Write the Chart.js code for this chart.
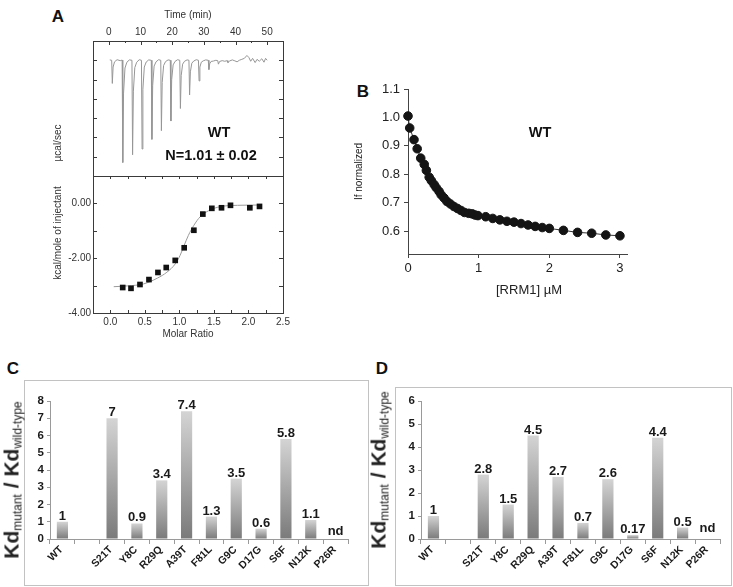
<!DOCTYPE html>
<html>
<head>
<meta charset="utf-8">
<script src="https://cdn.jsdelivr.net/npm/chart.js@4.4.1/dist/chart.umd.min.js"></script>
<style>
  body { margin: 0; width: 733px; height: 587px; position: relative; background: #fff; overflow: hidden;
         font-family: "Liberation Sans", Arial, sans-serif; }
  canvas, .lbl, .box { position: absolute; }
  .lbl { white-space: nowrap; line-height: 1; color: #222; transform: translate(-50%, -50%); }
  .rot { transform: translate(-50%, -50%) rotate(-90deg); }
  .panel { font-weight: bold; font-size: 17px; color: #111; }
  .note { font-weight: bold; font-size: 14.5px; color: #111; }
  .small { font-size: 10px; color: #333; }
  .kd { font-weight: bold; font-size: 21px; color: #222; }
  .kd sub { font-weight: normal; font-size: 12px; vertical-align: -3px; }
  .box { border: 1px solid #c2c2c2; box-sizing: border-box; }
</style>
</head>
<body>

<div class="lbl panel" style="left:58px;top:16px">A</div>
<div class="lbl panel" style="left:363px;top:91px">B</div>
<div class="lbl panel" style="left:13px;top:368px">C</div>
<div class="lbl panel" style="left:382px;top:368px">D</div>

<div class="box" style="left:24px;top:380px;width:345px;height:206px"></div>
<div class="box" style="left:395px;top:387px;width:337px;height:199px"></div>

<canvas id="aTop" width="300" height="180" style="left:0;top:0"></canvas>
<canvas id="aBottom" width="300" height="175" style="left:0;top:170px"></canvas>
<canvas id="bChart" width="300" height="225" style="left:340px;top:80px"></canvas>
<canvas id="cChart" width="344" height="205" style="left:24px;top:380px"></canvas>
<canvas id="dChart" width="337" height="198" style="left:395px;top:387px"></canvas>

<div class="lbl small rot" style="left:58px;top:143px">µcal/sec</div>
<div class="lbl small rot" style="left:58px;top:233px">kcal/mole of injectant</div>
<div class="lbl note" style="left:219px;top:132px">WT</div>
<div class="lbl note" style="left:211px;top:155px">N=1.01 ± 0.02</div>
<div class="lbl note" style="left:540px;top:132px">WT</div>
<div class="lbl" style="left:529px;top:289px;font-size:13px">[RRM1] µM</div>
<div class="lbl kd rot" style="left:12px;top:480px">Kd<sub>mutant</sub> / Kd<sub>wild-type</sub></div>
<div class="lbl kd rot" style="left:379px;top:470px">Kd<sub>mutant</sub> / Kd<sub>wild-type</sub></div>

<script>
// ---------- Panel A: raw ITC trace ----------
const rawTime = [0.3, 0.9, 1.1, 1.35, 1.8, 2.6, 3.6, 4.2, 4.4, 4.65, 5.1, 5.7, 6.5,
  7.3, 7.5, 7.75, 8.2, 8.8, 9.6, 10.3, 10.5, 10.75, 11.2, 11.8, 12.6,
  13.4, 13.6, 13.85, 14.3, 14.9, 15.7, 16.4, 16.6, 16.85, 17.3, 17.9, 18.7,
  19.4, 19.6, 19.85, 20.3, 20.9, 21.7, 22.4, 22.6, 22.85, 23.3, 23.9, 24.7,
  25.3, 25.5, 25.75, 26.2, 26.8, 27.6, 28.3, 28.5, 28.75, 29.2, 29.8, 30.6,
  31.4, 31.6, 31.85, 32.3, 33.0, 33.8, 34.4, 34.6, 35.0, 35.8, 36.6, 37.4,
  37.6, 38.2, 39.0, 39.8, 40.5, 41.2, 42.0, 42.8, 43.6, 44.2, 44.8, 45.4,
  46.2, 46.8, 47.5, 48.3, 49.0, 49.5, 50.0];
const rawPower = [0.02, 0.0, -1.2, -0.35, -0.08, 0.03, -0.02, 0.01, -5.3, -1.7, -0.4, -0.1, 0.02,
  0.0, -4.9, -1.6, -0.38, -0.1, 0.03, 0.0, -4.6, -1.5, -0.35, -0.09, 0.02,
  0.0, -4.1, -1.3, -0.3, -0.08, 0.03, 0.0, -3.65, -1.15, -0.27, -0.07, 0.02,
  0.0, -3.15, -1.0, -0.24, -0.06, 0.03, 0.0, -2.5, -0.8, -0.2, -0.05, 0.02,
  0.0, -1.8, -0.6, -0.15, -0.04, 0.03, 0.0, -1.07, -0.35, -0.1, -0.03, 0.02,
  0.0, -0.48, -0.18, -0.06, -0.04, 0.0, -0.02, -0.2, -0.06, -0.02, -0.05, -0.02,
  -0.12, -0.03, 0.02, -0.03, -0.08, 0.0, 0.05, 0.1, 0.25, 0.15, -0.05, 0.1,
  -0.12, 0.05, -0.05, 0.08, -0.1, 0.1, 0.0];
const timeTicks = [0, 10, 20, 30, 40, 50];
const timeMinor = [5, 15, 25, 35, 45];
const rawYTicks = [-6, -5, -4, -3, -2, -1, 0, 1];

// ---------- Panel A: integrated heats ----------
const molarRatio = [0.18, 0.30, 0.43, 0.56, 0.69, 0.81, 0.94, 1.07, 1.21, 1.34, 1.47, 1.61, 1.74, 2.02, 2.16];
const heatPerMole = [-3.07, -3.10, -2.96, -2.78, -2.52, -2.34, -2.08, -1.62, -0.98, -0.39, -0.18, -0.16, -0.07, -0.16, -0.11];
const fitRatio = [0.05, 0.25, 0.48, 0.68, 0.82, 0.94, 1.01, 1.07, 1.13, 1.21, 1.30, 1.42, 1.59, 1.84, 2.17];
const fitHeat = [-3.04, -3.01, -2.94, -2.73, -2.51, -2.21, -1.90, -1.53, -1.17, -0.80, -0.49, -0.27, -0.12, -0.07, -0.06];
const ratioTicks = [0, 0.5, 1.0, 1.5, 2.0, 2.5];
const ratioMinor = [0, 0.25, 0.5, 0.75, 1.0, 1.25, 1.5, 1.75, 2.0, 2.25];
const heatTicks = [-4, -2, 0];
const heatMinor = [-4, -3, -2, -1, 0, 1];

// ---------- Panel B: fluorescence titration ----------
const rrm1 = [0, 0.024, 0.085, 0.13, 0.18, 0.23, 0.26, 0.30, 0.33, 0.37, 0.40, 0.44, 0.47, 0.51,
  0.55, 0.60, 0.65, 0.70, 0.75, 0.80, 0.86, 0.91, 0.95, 0.99, 1.1, 1.2, 1.3, 1.4, 1.5,
  1.6, 1.7, 1.8, 1.9, 2.0, 2.2, 2.4, 2.6, 2.8, 3.0];
const ifNorm = [1.005, 0.963, 0.922, 0.89, 0.857, 0.835, 0.814, 0.79, 0.778, 0.764, 0.753, 0.74, 0.728, 0.717,
  0.705, 0.696, 0.687, 0.68, 0.673, 0.666, 0.663, 0.661, 0.657, 0.655, 0.651, 0.645, 0.64, 0.635, 0.632,
  0.627, 0.622, 0.617, 0.613, 0.61, 0.603, 0.596, 0.593, 0.587, 0.584];
const bXTicks = [0, 1, 2, 3];
const bYTicks = [0.6, 0.7, 0.8, 0.9, 1.0, 1.1];

// ---------- Panels C and D ----------
const mutants = ['WT', '', 'S21T', 'Y8C', 'R29Q', 'A39T', 'F81L', 'G9C', 'D17G', 'S6F', 'N12K', 'P26R'];
const kdRatioC = [1, null, 7, 0.9, 3.4, 7.4, 1.3, 3.5, 0.6, 5.8, 1.1, null];
const kdTextC = ['1', '', '7', '0.9', '3.4', '7.4', '1.3', '3.5', '0.6', '5.8', '1.1', 'nd'];
const kdRatioD = [1, null, 2.8, 1.5, 4.5, 2.7, 0.7, 2.6, 0.17, 4.4, 0.5, null];
const kdTextD = ['1', '', '2.8', '1.5', '4.5', '2.7', '0.7', '2.6', '0.17', '4.4', '0.5', 'nd'];

Chart.defaults.font.family = '"Liberation Sans", Arial, sans-serif';
Chart.defaults.color = '#222';

// Origin-style frame with inward ticks
const frameTicks = {
  id: 'frameTicks',
  afterDraw(chart, args, opts) {
    if (!opts.on) return;
    const { ctx, chartArea: a } = chart;
    ctx.save();
    ctx.strokeStyle = '#3a3a3a';
    ctx.lineWidth = 1;
    ctx.strokeRect(Math.round(a.left) + 0.5, Math.round(a.top) + 0.5,
      Math.round(a.right - a.left), Math.round(a.bottom - a.top));
    ctx.beginPath();
    (opts.marks || []).forEach(m => {
      const s = chart.scales[m.id];
      m.values.forEach(v => {
        const p = Math.round(s.getPixelForValue(v)) + 0.5;
        m.sides.forEach(side => {
          if (side === 'top') { ctx.moveTo(p, a.top); ctx.lineTo(p, a.top + m.len); }
          if (side === 'bottom') { ctx.moveTo(p, a.bottom); ctx.lineTo(p, a.bottom - m.len); }
          if (side === 'left') { ctx.moveTo(a.left, p); ctx.lineTo(a.left + m.len, p); }
          if (side === 'right') { ctx.moveTo(a.right, p); ctx.lineTo(a.right - m.len, p); }
        });
      });
    });
    ctx.stroke();
    ctx.restore();
  }
};

// value text over the bars + 45 degree category names
const barText = {
  id: 'barText',
  afterDatasetsDraw(chart, args, opts) {
    if (!opts.text) return;
    const { ctx } = chart;
    const y = chart.scales.y, x = chart.scales.x;
    const values = chart.data.datasets[0].data;
    ctx.save();
    ctx.font = 'bold 13px "Liberation Sans", Arial';
    ctx.fillStyle = '#1a1a1a';
    ctx.textAlign = 'center';
    ctx.textBaseline = 'alphabetic';
    opts.text.forEach((t, i) => {
      if (!t) return;
      const v = values[i];
      const py = v == null ? y.getPixelForValue(0) - opts.nd : y.getPixelForValue(v) - 2;
      ctx.fillText(t, x.getPixelForValue(i), py);
    });

    ctx.font = 'bold 10.5px "Liberation Sans", Arial';
    ctx.textAlign = 'right';
    ctx.textBaseline = 'middle';
    const axisY = y.getPixelForValue(0);
    chart.data.labels.forEach((name, i) => {
      if (!name) return;
      ctx.save();
      ctx.translate(x.getPixelForValue(i) - 1, axisY + 9);
      ctx.rotate(-Math.PI / 4);
      ctx.fillText(name, 0, 0);
      ctx.restore();
    });
    ctx.restore();
  }
};

Chart.register(frameTicks, barText);

function pairs(xs, ys) {
  return xs.map((v, i) => ({ x: v, y: ys[i] }));
}
function setTicks(list) {
  return scale => { scale.ticks = list.map(v => ({ value: v })); };
}
function fixSize(w, h) {
  return scale => {
    if (w != null) scale.width = w;
    if (h != null) scale.height = h;
    scale.paddingLeft = 0; scale.paddingRight = 0;
    scale.paddingTop = 0; scale.paddingBottom = 0;
  };
}
const noPlugins = { legend: { display: false }, tooltip: { enabled: false } };
const hiddenGrid = { display: false, drawTicks: false };

// A top: raw heat rate
new Chart(document.getElementById('aTop'), {
  type: 'scatter',
  data: { datasets: [{
    data: pairs(rawTime, rawPower), showLine: true, clip: false,
    borderColor: '#969696', borderWidth: 1, pointRadius: 0
  }] },
  options: {
    animation: false, responsive: false, events: [],
    layout: { padding: { top: 0, right: 17, bottom: 4, left: 0 } },
    plugins: { ...noPlugins, frameTicks: { on: true, marks: [
      { id: 'x', values: timeTicks, sides: ['top'], len: 4 },
      { id: 'x', values: timeMinor, sides: ['top'], len: 2 },
      { id: 'y', values: rawYTicks, sides: ['left', 'right'], len: 4 }
    ] } },
    scales: {
      x: {
        type: 'linear', position: 'top', min: -5, max: 55,
        afterBuildTicks: setTicks(timeTicks), afterFit: fixSize(null, 41),
        grid: hiddenGrid, border: { display: false },
        ticks: { padding: 3, maxRotation: 0, color: '#333', font: { size: 10 } },
        title: { display: true, text: 'Time (min)', color: '#333', font: { size: 10 }, padding: { top: 9, bottom: 0 } }
      },
      y: {
        min: -6, max: 1,
        afterBuildTicks: setTicks(rawYTicks), afterFit: fixSize(93, null),
        grid: hiddenGrid, border: { display: false },
        ticks: { display: false }
      }
    }
  }
});

// A bottom: integrated heats with fit
new Chart(document.getElementById('aBottom'), {
  type: 'scatter',
  data: { datasets: [
    { data: pairs(molarRatio, heatPerMole), pointStyle: 'rect', pointRadius: 4,
      backgroundColor: '#111', borderColor: '#111', borderWidth: 0 },
    { data: pairs(fitRatio, fitHeat), showLine: true, pointRadius: 0,
      borderColor: '#9a9a9a', borderWidth: 1, cubicInterpolationMode: 'monotone' }
  ] },
  options: {
    animation: false, responsive: false, events: [],
    layout: { padding: { top: 6, right: 17, bottom: 0, left: 0 } },
    plugins: { ...noPlugins, frameTicks: { on: true, marks: [
      { id: 'x', values: ratioMinor, sides: ['top', 'bottom'], len: 3 },
      { id: 'y', values: heatMinor, sides: ['left', 'right'], len: 4 }
    ] } },
    scales: {
      x: {
        type: 'linear', min: -0.25, max: 2.5,
        afterBuildTicks: setTicks(ratioTicks), afterFit: fixSize(null, 32),
        grid: hiddenGrid, border: { display: false },
        ticks: { padding: 3, maxRotation: 0, color: '#333', font: { size: 10 }, callback: v => v.toFixed(1) },
        title: { display: true, text: 'Molar Ratio', color: '#333', font: { size: 10 }, padding: { top: 0, bottom: 5 } }
      },
      y: {
        min: -4, max: 1,
        afterBuildTicks: setTicks(heatTicks), afterFit: fixSize(93, null),
        grid: hiddenGrid, border: { display: false },
        ticks: { padding: 2, color: '#333', font: { size: 10 }, callback: v => v.toFixed(2) }
      }
    }
  }
});

// B: fluorescence vs RRM1
new Chart(document.getElementById('bChart'), {
  type: 'scatter',
  data: { datasets: [{
    data: pairs(rrm1, ifNorm), showLine: true, clip: false,
    borderColor: '#333', borderWidth: 1,
    pointRadius: 4.3, pointBackgroundColor: '#141414', pointBorderColor: '#141414'
  }] },
  options: {
    animation: false, responsive: false, events: [],
    layout: { padding: { top: 9, right: 13, bottom: 0, left: 0 } },
    plugins: { ...noPlugins },
    scales: {
      x: {
        type: 'linear', min: 0, max: 3.1,
        afterBuildTicks: setTicks(bXTicks), afterFit: fixSize(null, 51),
        grid: { drawOnChartArea: false, tickLength: 4, color: '#444' }, border: { color: '#444' },
        ticks: { padding: 3, maxRotation: 0, color: '#222', font: { size: 13 } }
      },
      y: {
        min: 0.52, max: 1.1,
        afterBuildTicks: setTicks(bYTicks), afterFit: fixSize(68, null),
        grid: { drawOnChartArea: false, tickLength: 4, color: '#444' }, border: { color: '#444' },
        ticks: { padding: 4, color: '#222', font: { size: 13 }, callback: v => v.toFixed(1) },
        title: { display: true, text: 'If normalized', color: '#222', font: { size: 10 }, padding: { top: 13, bottom: 0 } }
      }
    }
  }
});

// gradient fill, light at the top of each bar and darker at its base
function barFill(c) {
  const y = c.chart.scales.y;
  if (!y || c.raw == null) return '#a0a0a0';
  const top = y.getPixelForValue(c.raw), base = y.getPixelForValue(0);
  if (!isFinite(top) || !isFinite(base) || top === base) return '#a0a0a0';
  const g = c.chart.ctx.createLinearGradient(0, top, 0, base);
  g.addColorStop(0, '#d4d4d4');
  g.addColorStop(1, '#7a7a7a');
  return g;
}

function kdChart(id, values, texts, yMax, pad, ndOffset) {
  return new Chart(document.getElementById(id), {
    type: 'bar',
    data: { labels: mutants, datasets: [{
      data: values, backgroundColor: barFill, borderWidth: 0,
      barPercentage: 0.9, categoryPercentage: 0.5
    }] },
    options: {
      animation: false, responsive: false, events: [],
      layout: { padding: pad },
      plugins: { ...noPlugins, barText: { text: texts, nd: ndOffset } },
      scales: {
        x: {
          afterFit: fixSize(null, 46),
          grid: { offset: true, drawOnChartArea: false, tickLength: 5, color: '#9a9a9a' },
          border: { color: '#9a9a9a' },
          ticks: { display: false, autoSkip: false }
        },
        y: {
          min: 0, max: yMax,
          afterFit: fixSize(26, null),
          grid: { drawOnChartArea: false, tickLength: 3, color: '#9a9a9a' },
          border: { color: '#9a9a9a' },
          ticks: { stepSize: 1, padding: 3, color: '#1a1a1a', font: { size: 11.5, weight: 'bold' } }
        }
      }
    }
  });
}

kdChart('cChart', kdRatioC, kdTextC, 8, { top: 21, right: 20, bottom: 0, left: 0 }, 4);
kdChart('dChart', kdRatioD, kdTextD, 6, { top: 14, right: 12, bottom: 0, left: 0 }, 7);
</script>
</body>
</html>
